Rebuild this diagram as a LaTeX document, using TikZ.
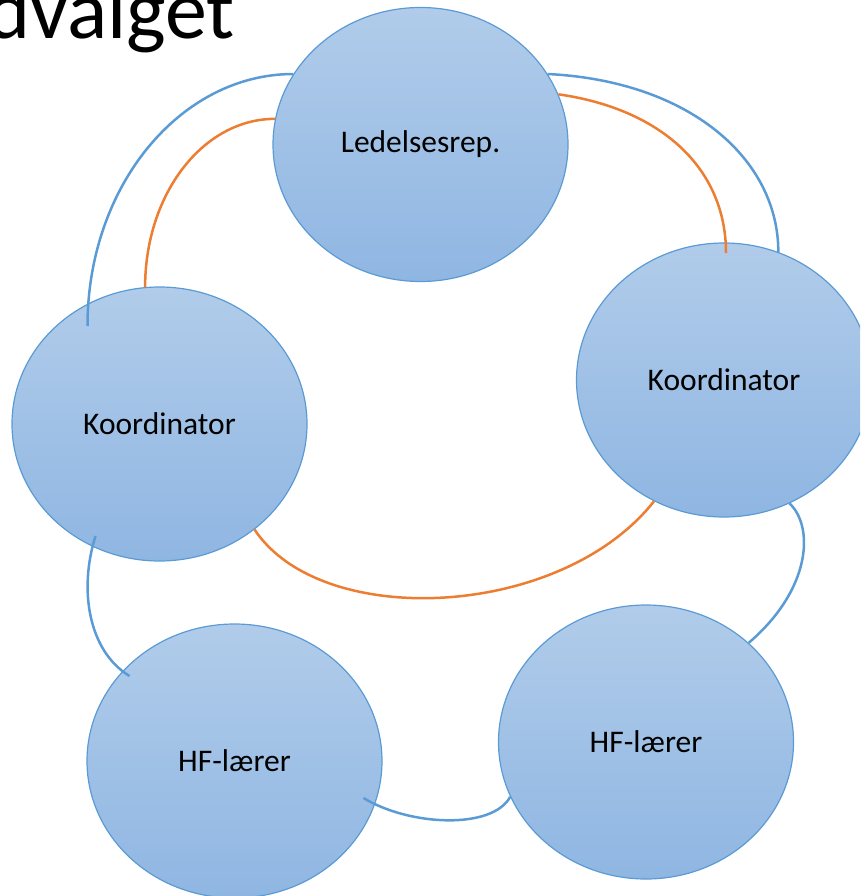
\documentclass[tikz,border=0pt]{standalone}
\usepackage{fontspec}
\setmainfont{Carlito}
\usetikzlibrary{calc,shapes.geometric}
\definecolor{rundtop}{RGB}{177,204,234}
\definecolor{rundbund}{RGB}{143,182,226}
\definecolor{kant}{RGB}{91,155,213}
\definecolor{orangelinje}{RGB}{237,125,49}
\begin{document}
\begin{tikzpicture}[x=1pt, y=-1pt,
    rund/.style={ellipse, draw=kant, line width=1.2pt, top color=rundtop, bottom color=rundbund,
                 minimum width=295pt, minimum height=274pt, inner sep=0pt, font=\fontsize{31.5}{37}\selectfont},
    blaastreg/.style={draw=kant, line width=2.5pt},
    orangestreg/.style={draw=orangelinje, line width=2.5pt}]
            \clip (0,0) rectangle (860,896);
            \node[anchor=base west, inner sep=0pt, font=\fontsize{84}{100}\selectfont] (titel) at (-14,39) {dvalget};
            \node[rund] (led) at (420.5,144.5) {Ledelsesrep.};
            \node[rund] (koordV) at (159.5,424) {Koordinator};
            \node[rund] (koordH) at (724,380) {Koordinator};
            \node[rund] (hfV) at (234.5,761) {HF-lærer};
            \node[rund] (hfH) at (646,742) {HF-lærer};
            % forbindelser
            \draw[blaastreg] ($(koordV)+(-72,-98)$) .. controls +(0,-140) and +(-113,0) .. (led.151);
            \draw[orangestreg] (koordV.96) .. controls +(0,-93) and +(-72,0) .. (led.170);
            \draw[blaastreg] (led.29) .. controls +(142,7) and +(0,-93) .. (koordH.67);
            \draw[orangestreg] (led.20) .. controls +(105,15) and +(0,-83) .. ($(koordH)+(2,-127)$);
            \draw[orangestreg] (koordV.-48) .. controls +(67,101) and +(-93,118) .. (koordH.-120);
            \draw[blaastreg] (koordH.-62) .. controls +(25,24) and +(62,-53) .. (hfH.44);
            \draw[blaastreg] ($(koordV)+(-64,112)$) .. controls +(-17,54) and +(-41,-25) .. ($(hfV)+(-105,-85)$);
            \draw[blaastreg] ($(hfV)+(129,37)$) .. controls +(46,28) and +(-18,33) .. (hfH.-158);
\end{tikzpicture}
\end{document}
